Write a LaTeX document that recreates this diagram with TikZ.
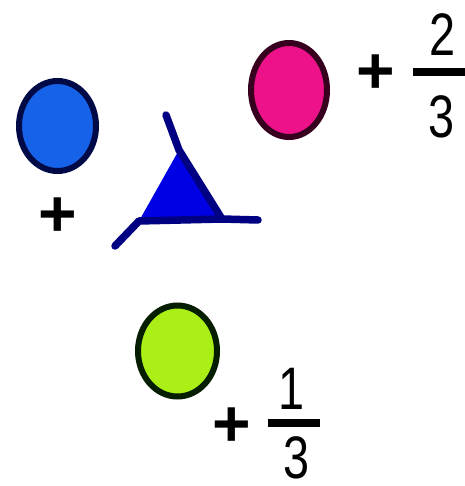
\documentclass[tikz,border=0pt]{standalone}
\usepackage{fontspec}
\setmainfont{Liberation Sans}
\definecolor{cblue}{RGB}{22,98,232}
\definecolor{cblueline}{RGB}{0,10,70}
\definecolor{cmag}{RGB}{238,18,138}
\definecolor{cmagline}{RGB}{55,0,30}
\definecolor{cgreen}{RGB}{170,240,22}
\definecolor{cgreenline}{RGB}{5,30,0}
\definecolor{ctri}{RGB}{0,0,228}
\definecolor{ctriline}{RGB}{0,0,130}
\tikzset{
  blob/.style={ellipse, minimum width=77pt, minimum height=90pt, line width=6pt, inner sep=0pt},
  plussign/.style={inner sep=0pt, font=\fontsize{66}{66}\selectfont\bfseries},
  digit/.style={inner sep=0pt, font=\fontsize{60}{60}\selectfont},
  fracbar/.style={inner sep=0pt, fill=black, minimum height=8pt},
  triline/.style={ctriline, line width=7.5pt, line cap=round, line join=round}
}
\usetikzlibrary{shapes.geometric}
\newcommand{\narrow}[1]{\scalebox{0.78}[1]{#1}}
\begin{document}
\begin{tikzpicture}[x=1pt,y=-1pt]
\useasboundingbox (0,0) rectangle (464,486);
\fill[white] (0,0) rectangle (464,486);
% circles
\node[blob, draw=cblueline, fill=cblue] (b) at (57.5,126) {};
\node[blob, draw=cmagline, fill=cmag, minimum width=76pt, minimum height=94pt] (m) at (289,90) {};
\node[blob, draw=cgreenline, fill=cgreen, minimum width=79pt, minimum height=91pt] (g) at (177.5,351) {};
% plus signs
\node[plussign] (pb) at (58,217) {+};
\node[plussign] (pm) at (376,74) {+};
\node[plussign] (pg) at (232,427) {+};
% fractions
\node[fracbar, minimum width=60pt] (barm) at (443,72.5) {};
\node[digit] (n2) at (442.5,35) {\narrow{2}};
\node[digit] (d3a) at (442,116.5) {\narrow{3}};
\node[fracbar, minimum width=52pt] (barg) at (294,422.5) {};
\node[digit] (n1) at (292,388.5) {\narrow{1}};
\node[digit] (d3b) at (296.5,458) {\narrow{3}};
% triangle symbol
\coordinate (top) at (166,115);
\coordinate (apex) at (179,150);
\coordinate (tl) at (139,221);
\coordinate (tr) at (222,219);
\coordinate (hr) at (258,220);
\coordinate (ll) at (115,246);
\fill[ctri] (apex) -- (tl) -- (tr) -- cycle;
\draw[triline] (top) -- (apex) -- (tr) -- (hr);
\draw[triline] (ll) -- (tl) -- (tr);
\end{tikzpicture}
\end{document}
